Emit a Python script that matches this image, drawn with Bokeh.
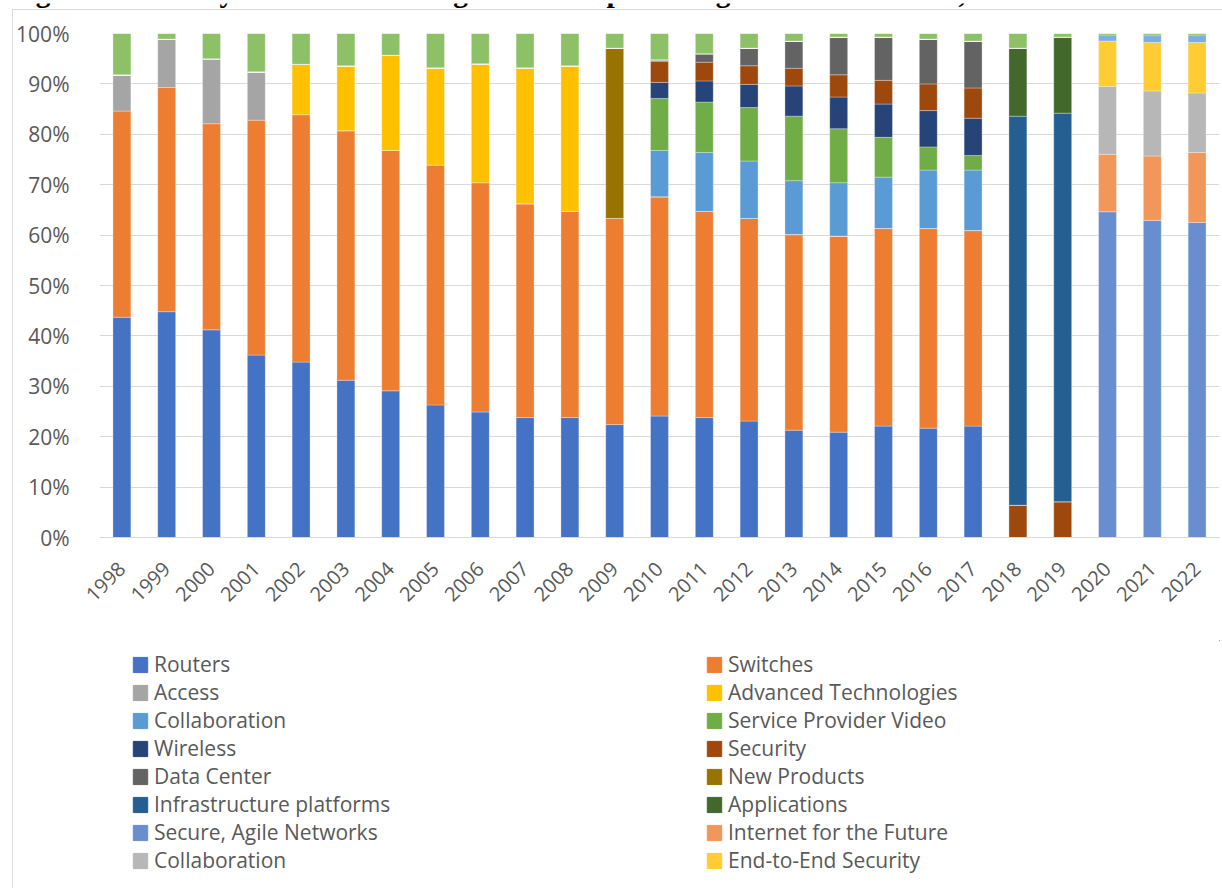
import math
from bokeh.plotting import figure
from bokeh.layouts import column
from bokeh.models import (ColumnDataSource, FactorRange, Range1d, Legend, LegendItem,
                          Label, NumeralTickFormatter, FixedTicker)
from bokeh.embed import file_html
from bokeh.resources import INLINE

# ---------------- data (share of total revenues, %) ----------------
years = [str(y) for y in range(1998, 2023)]

routers = [43.7, 44.8, 41.2, 36.2, 34.8, 31.2, 29.1, 26.3, 24.9, 23.8, 23.8, 22.4, 24.1,
           23.8, 23.1, 21.3, 20.9, 22.1, 21.7, 22.1, 0, 0, 0, 0, 0]
switches = [40.9, 44.5, 40.9, 46.6, 49.1, 49.5, 47.7, 47.6, 45.5, 42.4, 40.9, 40.9, 43.5,
            40.9, 40.2, 38.8, 38.9, 39.2, 39.6, 38.8, 0, 0, 0, 0, 0]
access = [7.2, 9.6, 12.9, 9.6, 0, 0, 0, 0, 0, 0, 0, 0, 0,
          0, 0, 0, 0, 0, 0, 0, 0, 0, 0, 0, 0]
advanced_tech = [0, 0, 0, 0, 10.0, 12.9, 18.9, 19.3, 23.6, 27.0, 28.9, 0, 0,
                 0, 0, 0, 0, 0, 0, 0, 0, 0, 0, 0, 0]
collaboration = [0, 0, 0, 0, 0, 0, 0, 0, 0, 0, 0, 0, 9.2,
                 11.7, 11.4, 10.7, 10.6, 10.2, 11.6, 12.0, 0, 0, 0, 0, 0]
sp_video = [0, 0, 0, 0, 0, 0, 0, 0, 0, 0, 0, 0, 10.3,
            10.0, 10.6, 12.8, 10.7, 7.9, 4.6, 2.9, 0, 0, 0, 0, 0]
wireless = [0, 0, 0, 0, 0, 0, 0, 0, 0, 0, 0, 0, 3.2,
            4.2, 4.6, 6.0, 6.3, 6.6, 7.2, 7.4, 0, 0, 0, 0, 0]
security = [0, 0, 0, 0, 0, 0, 0, 0, 0, 0, 0, 0, 4.2,
            3.7, 3.7, 3.5, 4.4, 4.7, 5.3, 6.0, 6.4, 7.1, 0, 0, 0]
data_center = [0, 0, 0, 0, 0, 0, 0, 0, 0, 0, 0, 0, 0.3,
               1.7, 3.5, 5.4, 7.5, 8.6, 8.9, 9.3, 0, 0, 0, 0, 0]
new_products = [0, 0, 0, 0, 0, 0, 0, 0, 0, 0, 0, 33.8, 0,
                0, 0, 0, 0, 0, 0, 0, 0, 0, 0, 0, 0]
infrastructure = [0, 0, 0, 0, 0, 0, 0, 0, 0, 0, 0, 0, 0,
                  0, 0, 0, 0, 0, 0, 0, 77.2, 77.1, 0, 0, 0]
applications = [0, 0, 0, 0, 0, 0, 0, 0, 0, 0, 0, 0, 0,
                0, 0, 0, 0, 0, 0, 0, 13.5, 15.1, 0, 0, 0]
secure_agile = [0, 0, 0, 0, 0, 0, 0, 0, 0, 0, 0, 0, 0,
                0, 0, 0, 0, 0, 0, 0, 0, 0, 64.7, 62.9, 62.5]
internet_future = [0, 0, 0, 0, 0, 0, 0, 0, 0, 0, 0, 0, 0,
                   0, 0, 0, 0, 0, 0, 0, 0, 0, 11.4, 12.8, 13.9]
collaboration_new = [0, 0, 0, 0, 0, 0, 0, 0, 0, 0, 0, 0, 0,
                     0, 0, 0, 0, 0, 0, 0, 0, 0, 13.5, 12.9, 11.8]
end_to_end = [0, 0, 0, 0, 0, 0, 0, 0, 0, 0, 0, 0, 0,
              0, 0, 0, 0, 0, 0, 0, 0, 0, 9.0, 9.6, 10.0]
opt_app = [0, 0, 0, 0, 0, 0, 0, 0, 0, 0, 0, 0, 0,
           0, 0, 0, 0, 0, 0, 0, 0, 0, 1.2, 1.5, 1.5]
other = [8.2, 1.1, 5.0, 7.6, 6.1, 6.4, 4.3, 6.8, 6.0, 6.8, 6.4, 2.9, 5.2,
         4.0, 2.9, 1.5, 0.7, 0.7, 1.1, 1.5, 2.9, 0.7, 0.3, 0.3, 0.3]

series = [
    ("Routers", routers, "#4472C4"),
    ("Switches", switches, "#ED7D31"),
    ("Access", access, "#A5A5A5"),
    ("Advanced Technologies", advanced_tech, "#FFC000"),
    ("Collaboration", collaboration, "#5B9BD5"),
    ("Service Provider Video", sp_video, "#70AD47"),
    ("Wireless", wireless, "#264478"),
    ("Security", security, "#9E480E"),
    ("Data Center", data_center, "#636363"),
    ("New Products", new_products, "#997300"),
    ("Infrastructure platforms", infrastructure, "#255E91"),
    ("Applications", applications, "#43682B"),
    ("Secure, Agile Networks", secure_agile, "#698ED0"),
    ("Internet for the Future", internet_future, "#F1975A"),
    ("Collaboration", collaboration_new, "#B7B7B7"),
    ("End-to-End Security", end_to_end, "#FFCD33"),
    ("Optimized Application Experiences", opt_app, "#7CAFDD"),
    ("Other Products", other, "#8CC168"),
]

title_text = ("Figure 3: Cisco system's Product segments as a percentage of total "
              "revenues, 1998-2022")

# ---------------- build source (100% stacked) ----------------
totals = [sum(s[1][i] for s in series) for i in range(len(years))]
data = {"year": years}
keys = []
for k, (name, vals, col) in enumerate(series):
    key = f"s{k}"
    keys.append(key)
    data[key] = [v / t for v, t in zip(vals, totals)]
src = ColumnDataSource(data)

TXT = "#595959"
GRID = "#D9D9D9"
W = 1209

# ---------------- title strip (top of the page, cut off as in the source) ----------------
pt = figure(width=1222, height=9, x_range=Range1d(0, 1), y_range=Range1d(0, 1),
            x_axis_location=None, y_axis_location=None, min_border=0,
            output_backend="svg", toolbar_location=None, outline_line_color=None)
pt.grid.visible = False
pt.add_layout(Label(x=9, y=-12, x_units="canvas", y_units="canvas", text=title_text,
                    text_font="Liberation Serif", text_font_style="bold",
                    text_font_size="29.5px", text_color="black",
                    text_baseline="alphabetic", text_align="left"))

# ---------------- main chart ----------------
p = figure(x_range=FactorRange(*years), y_range=Range1d(0, 1),
           width=W, height=630,
           output_backend="svg", toolbar_location=None,
           min_border_left=79, min_border_right=3, min_border_top=23,
           min_border_bottom=103, outline_line_color=None,
           background_fill_color="white", border_fill_color="white")

renderers = p.vbar_stack(keys, x="year", width=0.4, source=src,
                         color=[s[2] for s in series],
                         line_color="white", line_width=0.6, line_alpha=0.5)

p.yaxis.ticker = FixedTicker(ticks=[i / 10 for i in range(11)])
p.yaxis.formatter = NumeralTickFormatter(format="0%")
p.yaxis.axis_line_color = None
p.yaxis.major_tick_line_color = None
p.yaxis.minor_tick_line_color = None
p.yaxis.major_label_standoff = 24
p.yaxis.major_label_text_font = "Open Sans"
p.yaxis.major_label_text_font_size = "21px"
p.yaxis.major_label_text_color = TXT

p.xaxis.axis_line_color = GRID
p.xaxis.axis_line_width = 1
p.xaxis.major_tick_line_color = None
p.xaxis.minor_tick_line_color = None
p.xaxis.major_label_orientation = math.pi / 4
p.xaxis.major_label_standoff = 22
p.xaxis.major_label_text_font = "Open Sans"
p.xaxis.major_label_text_font_size = "20px"
p.xaxis.major_label_text_color = TXT

p.xgrid.grid_line_color = None
p.ygrid.grid_line_color = GRID
p.ygrid.grid_line_width = 1

# ---------------- legend panel ----------------
pl = figure(width=W, height=248, x_range=Range1d(0, 1), y_range=Range1d(0, 1),
            x_axis_location=None, y_axis_location=None, min_border=0,
            output_backend="svg", toolbar_location=None, outline_line_color=None)
pl.grid.visible = False

# swatch-only renderers (their single point lies outside the visible ranges)
legend_renderers = []
for name, vals, col in series[:16]:
    legend_renderers.append(pl.vbar(x=[5], top=[5], bottom=[4], width=0.1, color=col))

left_idx = [0, 2, 4, 6, 8, 10, 12, 14]
right_idx = [1, 3, 5, 7, 9, 11, 13, 15]


def make_legend(idx, x):
    items = [LegendItem(label=series[i][0], renderers=[legend_renderers[i]]) for i in idx]
    return Legend(items=items, location=(x, 14), orientation="vertical",
                  padding=0, margin=0, spacing=0, label_height=28,
                  glyph_height=19, glyph_width=18, label_standoff=5,
                  border_line_color=None, background_fill_alpha=0,
                  label_text_font="Open Sans", label_text_font_size="21px",
                  label_text_color=TXT)


pl.add_layout(make_legend(left_idx, 32))
pl.add_layout(make_legend(right_idx, 606))

chart = column(p, pl, margin=(0, 0, 0, 12),
               styles={"border-left": f"1px solid {GRID}", "border-top": f"1px solid {GRID}"})
layout = column(pt, chart)

open("out.html", "w").write(file_html(layout, INLINE))
